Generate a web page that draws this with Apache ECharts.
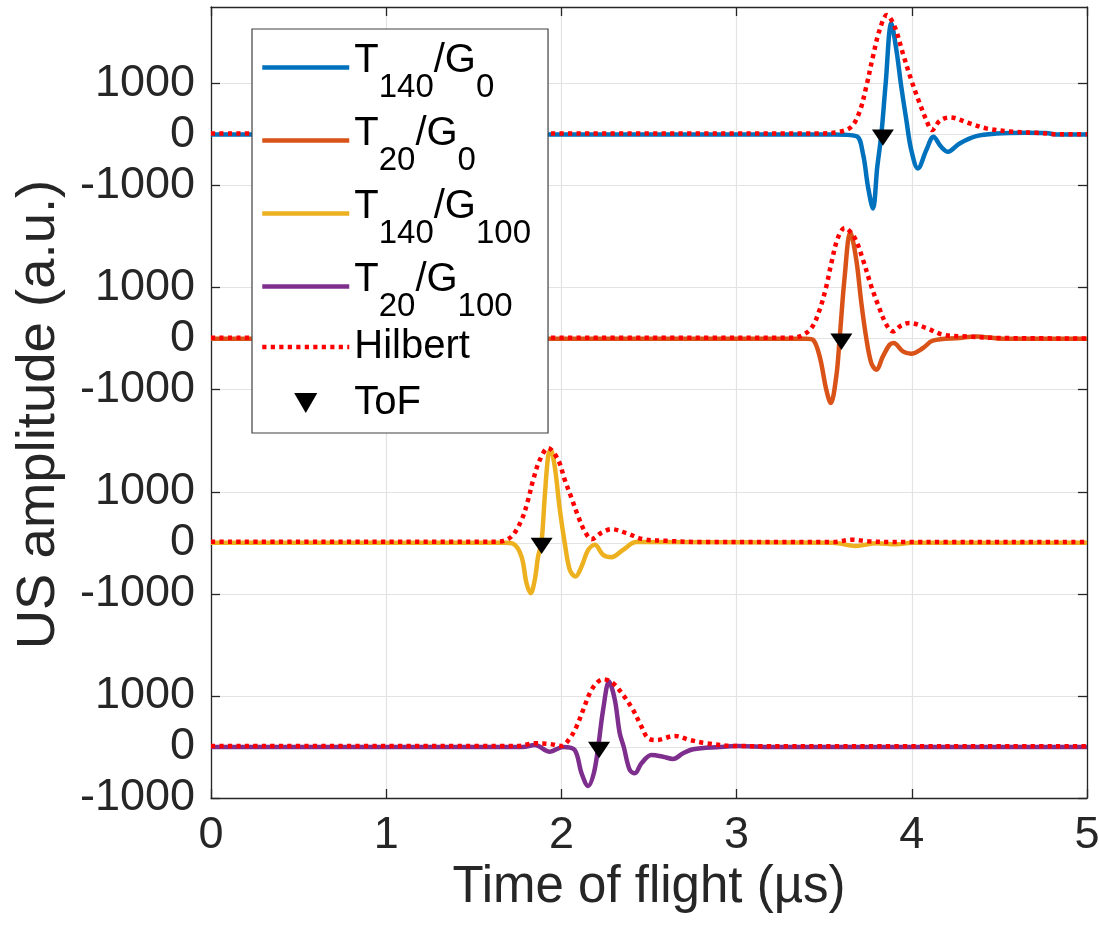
<!DOCTYPE html>
<html>
<head>
<meta charset="utf-8">
<script src="https://cdn.jsdelivr.net/npm/echarts@6/dist/echarts.min.js"></script>
<style>
html,body{margin:0;padding:0;background:#fff;}
#chart{width:1099px;height:937px;}
</style>
</head>
<body>
<div id="chart"></div>
<script>
// ---------- data ----------
const seriesNames = ['T140/G0', 'T20/G0', 'T140/G100', 'T20/G100'];
const traceOffsets = [12000, 8000, 4000, 0];
const tickAmplitudes = [-1000, 0, 1000];
const tickLabels = ['-1000', '0', '1000'];
const xTickLabels = ['0', '1', '2', '3', '4', '5'];

// Trace 1 : T140/G0
const time1 = [0, 3.55, 3.683, 3.721, 3.750, 3.778, 3.803, 3.826, 3.851, 3.883, 3.912, 3.940, 3.969, 3.997, 4.035, 4.083, 4.124, 4.165, 4.206, 4.273, 4.368, 4.482, 4.65, 4.767, 4.824, 5];
const amp1  = [0, 0, -30, -370, -1023, -1447, -631, 0, 1008, 2180, 1657, 937, 284, -304, -663, -304, -43, -230, -337, -173, -30, 20, 35, 30, 0, 0];
const hilbT1 = [0, 3.45, 3.588, 3.655, 3.702, 3.740, 3.778, 3.816, 3.858, 3.902, 3.949, 3.997, 4.045, 4.083, 4.115, 4.16, 4.216, 4.33, 4.425, 4.577, 4.71, 4.85, 5];
const hilb1  = [20, 20, 55, 153, 447, 937, 1525, 2049, 2343, 2114, 1592, 1069, 612, 284, 88, 270, 337, 220, 122, 55, 35, 5, 5];

// Trace 2 : T20/G0
const time2 = [0, 3.40, 3.436, 3.474, 3.512, 3.537, 3.569, 3.588, 3.617, 3.649, 3.683, 3.712, 3.740, 3.769, 3.797, 3.835, 3.873, 3.896, 3.949, 3.997, 4.064, 4.120, 4.273, 4.368, 4.520, 5];
const amp2  = [0, 0, -20, -347, -1000, -1261, -739, 0, 1221, 2084, 1549, 700, 14, -477, -608, -347, -118, -84, -248, -294, -183, -39, 14, 45, 0, 0];
const hilbT2 = [0, 3.30, 3.36, 3.427, 3.474, 3.512, 3.541, 3.578, 3.617, 3.674, 3.721, 3.769, 3.807, 3.855, 3.892, 3.94, 3.987, 4.083, 4.178, 4.311, 4.5, 5];
const hilb2  = [20, 20, 45, 210, 569, 1025, 1484, 1974, 2170, 1974, 1549, 1025, 667, 275, 143, 260, 308, 210, 78, 45, 14, 5];

// Trace 3 : T140/G100
const time3 = [0, 1.68, 1.725, 1.772, 1.801, 1.825, 1.848, 1.867, 1.886, 1.905, 1.924, 1.938, 1.962, 1.991, 2.019, 2.048, 2.080, 2.115, 2.153, 2.191, 2.238, 2.286, 2.352, 2.428, 3.55, 3.68, 3.80, 3.91, 4.0, 5];
const amp3  = [0, 0, -20, -268, -791, -986, -725, -268, 0, 908, 1692, 1824, 1496, 647, 0, -529, -660, -464, -137, -39, -235, -281, -137, 14, 0, -60, -10, -30, 0, 0];
const hilbT3 = [0, 1.60, 1.649, 1.715, 1.773, 1.81, 1.839, 1.877, 1.924, 1.981, 2.019, 2.058, 2.096, 2.134, 2.172, 2.23, 2.286, 2.371, 2.466, 2.60, 2.80, 3.55, 3.66, 3.75, 3.9, 5];
const hilb3  = [20, 20, 25, 124, 451, 843, 1235, 1627, 1857, 1627, 1235, 876, 516, 222, 72, 200, 268, 190, 72, 39, 15, 15, 60, 30, 15, 15];

// Trace 4 : T20/G100
const time4 = [0, 1.78, 1.848, 1.934, 2.010, 2.076, 2.115, 2.153, 2.185, 2.210, 2.238, 2.272, 2.305, 2.333, 2.356, 2.390, 2.419, 2.457, 2.514, 2.580, 2.637, 2.695, 2.752, 2.904, 3.0, 3.2, 5];
const amp4  = [0, 0, 39, -92, 0, -60, -516, -765, -516, 0, 725, 1281, 922, 268, 0, -451, -516, -320, -157, -190, -235, -124, -45, 0, 20, 0, 0];
const hilbT4 = [0, 1.75, 1.848, 1.93, 2.0, 2.048, 2.086, 2.124, 2.162, 2.2, 2.238, 2.295, 2.352, 2.409, 2.457, 2.495, 2.542, 2.647, 2.733, 2.828, 2.98, 3.2, 5];
const hilb4  = [20, 20, 72, 60, 20, 170, 398, 725, 1052, 1249, 1327, 1249, 1020, 725, 398, 170, 137, 216, 137, 72, 20, 15, 15];

// Time of flight markers (amplitude 0 on each trace)
const tofTimes = [3.835, 3.598, 1.887, 2.215];

const traceTimes = [time1, time2, time3, time4];
const traceAmps = [amp1, amp2, amp3, amp4];
const hilbTimes = [hilbT1, hilbT2, hilbT3, hilbT4];
const hilbAmps = [hilb1, hilb2, hilb3, hilb4];
const colors = ['#0072BD', '#D95319', '#EDB120', '#7E2F8E'];

// ---------- build ----------
const FONT = '"Liberation Sans", Arial, Helvetica, sans-serif';
const AX = '#262626';
const GRIDC = '#e3e3e3';
const LW = 4.5;

const yTickValues = [];
traceOffsets.slice().reverse().forEach(off => tickAmplitudes.forEach(a => yTickValues.push(off + a)));

function yLabel(v) {
  for (const off of traceOffsets) {
    const i = tickAmplitudes.indexOf(Math.round(v - off));
    if (i >= 0) return tickLabels[i];
  }
  return '';
}
function pairs(ts, as, off) { return ts.map((t, i) => [t, as[i] + off]); }

const legendText = {
  'T140/G0': '{m|T}{s|140}{m|/G}{s|0}',
  'T20/G0': '{m|T}{s|20}{m|/G}{s|0}',
  'T140/G100': '{m|T}{s|140}{m|/G}{s|100}',
  'T20/G100': '{m|T}{s|20}{m|/G}{s|100}'
};

const series = [];
for (let k = 0; k < 4; k++) {
  series.push({
    name: seriesNames[k], type: 'line', data: pairs(traceTimes[k], traceAmps[k], traceOffsets[k]),
    smooth: 0.35, showSymbol: false, symbol: 'none',
    lineStyle: { color: colors[k], width: LW }, itemStyle: { color: colors[k] },
    z: 2, silent: true
  });
}
for (let k = 0; k < 4; k++) {
  series.push({
    name: 'Hilbert', type: 'line', data: pairs(hilbTimes[k], hilbAmps[k], traceOffsets[k]),
    smooth: 0.35, showSymbol: false, symbol: 'none',
    lineStyle: { color: '#FF0000', width: LW, type: [4.2, 4.3], cap: 'butt' }, itemStyle: { color: '#FF0000' },
    z: 3, silent: true
  });
}
series.push({
  name: 'ToF', type: 'scatter',
  data: tofTimes.map((t, i) => [t, traceOffsets[i]]),
  symbol: 'path://M0,0L22,0L11,19Z', symbolSize: [22, 19], symbolOffset: [0, 3], symbolKeepAspect: true,
  itemStyle: { color: '#000', opacity: 1 }, z: 4, silent: true
});

const legendCommon = {
  orient: 'vertical', itemWidth: 87, itemHeight: 20, itemGap: 10,
  selectedMode: false,
  itemStyle: { opacity: 0 },
  lineStyle: { width: LW }
};

const chart = echarts.init(document.getElementById('chart'), null, { renderer: 'canvas' });
chart.setOption({
  animation: false,
  backgroundColor: '#fff',
  textStyle: { fontFamily: FONT },
  grid: { left: 211, right: 12, top: 7, bottom: 139, containLabel: false, outerBoundsMode: 'none' },
  legend: [Object.assign({}, legendCommon, {
    left: 252, top: 29, z: 5,
    padding: [12, 17, 110, 8],
    backgroundColor: '#fff', borderColor: '#404040', borderWidth: 1.2, borderRadius: 0,
    data: seriesNames,
    formatter: name => legendText[name] || name,
    textStyle: {
      fontFamily: FONT, fontSize: 40, color: '#000', lineHeight: 46,
      rich: {
        m: { fontFamily: FONT, fontSize: 40, color: '#000', lineHeight: 53, verticalAlign: 'top' },
        s: { fontFamily: FONT, fontSize: 33, color: '#000', lineHeight: 32, padding: [30, 0, 0, 0], verticalAlign: 'top' }
      }
    }
  }), Object.assign({}, legendCommon, {
    left: 260, top: 324, z: 6, padding: 0,
    backgroundColor: 'transparent', borderWidth: 0,
    data: ['Hilbert', { name: 'ToF', itemStyle: { opacity: 1, color: '#000' } }],
    textStyle: { fontFamily: FONT, fontSize: 40, color: '#000', lineHeight: 46 }
  })],
  xAxis: [{
    type: 'value', min: 0, max: 5, interval: 1, position: 'bottom',
    name: 'Time of flight (µs)', nameLocation: 'middle', nameGap: 60,
    nameTextStyle: { fontFamily: FONT, fontSize: 51, color: AX },
    axisLine: { show: true, onZero: false, lineStyle: { color: AX, width: 1.3 } },
    axisTick: { show: true, inside: true, length: 9, lineStyle: { color: AX, width: 1.3 } },
    axisLabel: { fontFamily: FONT, fontSize: 45, color: AX, margin: 15, formatter: v => xTickLabels[Math.round(v)] },
    splitLine: { show: true, lineStyle: { color: GRIDC, width: 1.2 } }
  }, {
    type: 'value', min: 0, max: 5, interval: 1, position: 'top',
    axisLine: { show: true, onZero: false, lineStyle: { color: AX, width: 1.3 } },
    axisTick: { show: true, inside: true, length: 9, lineStyle: { color: AX, width: 1.3 } },
    axisLabel: { show: false }, splitLine: { show: false }
  }],
  yAxis: [{
    type: 'value', min: -1000, max: 14500, position: 'left',
    name: 'US amplitude (a.u.)', nameLocation: 'middle', nameGap: 145, nameRotate: 90,
    nameTextStyle: { fontFamily: FONT, fontSize: 54.5, color: AX, padding: [0, 24, 0, 0] },
    axisLine: { show: true, onZero: false, lineStyle: { color: AX, width: 1.3 } },
    axisTick: { show: true, inside: true, length: 9, customValues: yTickValues, lineStyle: { color: AX, width: 1.3 } },
    axisLabel: { fontFamily: FONT, fontSize: 45, color: AX, margin: 16, customValues: yTickValues, formatter: yLabel },
    splitLine: { show: true, lineStyle: { color: GRIDC, width: 1.2 } }
  }, {
    type: 'value', min: -1000, max: 14500, position: 'right',
    axisLine: { show: true, onZero: false, lineStyle: { color: AX, width: 1.3 } },
    axisTick: { show: true, inside: true, length: 9, customValues: yTickValues, lineStyle: { color: AX, width: 1.3 } },
    axisLabel: { show: false, customValues: yTickValues }, splitLine: { show: false }
  }],
  series: series
});
</script>
</body>
</html>
